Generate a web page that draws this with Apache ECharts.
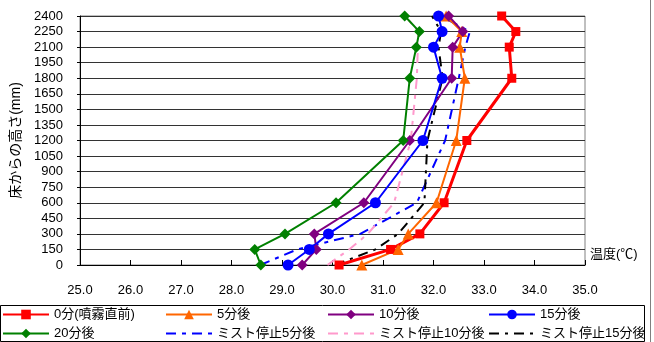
<!DOCTYPE html>
<html><head><meta charset="utf-8">
<script src="https://cdn.jsdelivr.net/npm/echarts@6/dist/echarts.min.js"></script>
<style>html,body{margin:0;padding:0;background:#fff}#c{width:654px;height:342px}</style>
</head><body><div id="c"></div>
<script>
var heights = [0, 150, 300, 600, 1200, 1800, 2100, 2250, 2400];
var names = ['0分(噴霧直前)', '5分後', '10分後', '15分後', '20分後', 'ミスト停止5分後', 'ミスト停止10分後', 'ミスト停止15分後'];
var t0 = [30.13, 31.15, 31.73, 32.21, 32.66, 33.55, 33.50, 33.63, 33.35];
var t5 = [30.58, 31.30, 31.50, 32.06, 32.45, 32.62, 32.52, 32.56, 32.25];
var t10 = [29.40, 29.68, 29.64, 30.62, 31.53, 32.36, 32.38, 32.58, 32.30];
var t15 = [29.12, 29.54, 29.92, 30.85, 31.79, 32.17, 32.00, 32.17, 32.10];
var t20 = [28.58, 28.46, 29.06, 30.07, 31.40, 31.53, 31.66, 31.72, 31.43];
var m5 = [28.57, 29.30, 30.55, 31.67, 32.23, 32.50, 32.63, 32.72, 32.15];
var m10 = [29.90, 30.33, 30.70, 31.22, 31.55, 31.67, 31.69, 31.70, 31.44];
var m15 = [30.05, 30.85, 31.30, 31.82, 31.88, 32.18, 32.10, 32.15, 31.97];
var xTicks = [25, 26, 27, 28, 29, 30, 31, 32, 33, 34, 35];

var FONT = "'Liberation Sans', 'Noto Sans CJK JP', sans-serif";
function pairs(arr) { return arr.map(function (v, i) { return [v, heights[i]]; }); }

var styles = [
  {c: '#FF0000', w: 3, sym: 'rect', sz: 9, z: 3},
  {c: '#FF6600', w: 2, sym: 'triangle', sz: 11, z: 3},
  {c: '#800080', w: 2, sym: 'diamond', sz: 11, z: 3},
  {c: '#0000FF', w: 2, sym: 'circle', sz: 11, z: 3},
  {c: '#008000', w: 2, sym: 'diamond', sz: 11, z: 3},
  {c: '#0000FF', w: 2, sym: 'none', sz: 0, z: 2, dash: [10, 6, 4, 6]},
  {c: '#FF99CC', w: 2, sym: 'none', sz: 0, z: 2, dash: [10, 6, 4, 6]},
  {c: '#000000', w: 2, sym: 'none', sz: 0, z: 2, dash: [10, 6, 3, 6]}
];
var dataSets = [t0, t5, t10, t15, t20, m5, m10, m15];

var series = dataSets.map(function (d, i) {
  var s = styles[i];
  var noSym = s.sym === 'none';
  return {
    name: names[i], type: 'line', data: pairs(d), z: s.z,
    symbol: s.sym, symbolSize: s.sz, showSymbol: !noSym,
    lineStyle: {color: s.c, width: s.w, type: s.dash || 'solid'},
    itemStyle: {color: s.c, opacity: noSym ? 0 : 1},
    animation: false
  };
});

var colX = [2, 165, 327, 488];
var rowY = [308, 327];
var legends = names.map(function (n, i) {
  var noSym = styles[i].sym === 'none';
  return {
    data: [n], left: colX[i % 4], top: rowY[Math.floor(i / 4)],
    padding: 0, itemWidth: 46, itemHeight: 12, itemGap: 0,
    itemStyle: noSym ? {opacity: 0} : {},
    textStyle: {fontSize: 13, color: '#000', fontFamily: FONT, padding: [0, 0, 0, 0]},
    selectedMode: false
  };
});

var chart = echarts.init(document.getElementById('c'));
chart.setOption({
  backgroundColor: '#fff',
  animation: false,
  grid: {left: 80, right: 69, top: 16, bottom: 77, show: true, borderColor: '#808080', borderWidth: 1},
  xAxis: {
    type: 'value', min: xTicks[0], max: xTicks[xTicks.length - 1], interval: 1,
    name: '温度(℃)', nameLocation: 'end', nameGap: 5,
    nameTextStyle: {fontSize: 13, color: '#000', fontFamily: FONT, verticalAlign: 'bottom', padding: [0, 0, 4, 0]},
    axisLine: {lineStyle: {color: '#000', width: 1}},
    axisTick: {inside: true, length: 5, lineStyle: {color: '#000'}},
    axisLabel: {margin: 19, fontSize: 13, color: '#000', fontFamily: FONT, formatter: function (v) { return v.toFixed(1); }},
    splitLine: {show: false}
  },
  yAxis: {
    type: 'value', min: 0, max: 2400, interval: 150,
    name: '床からの高さ(mm)', nameLocation: 'middle', nameGap: 55, nameRotate: 90,
    nameTextStyle: {fontSize: 14, color: '#000', fontFamily: FONT},
    axisLine: {show: true, lineStyle: {color: '#000', width: 1}},
    axisTick: {show: true, length: 3, lineStyle: {color: '#000'}},
    axisLabel: {margin: 17, fontSize: 13, color: '#000', fontFamily: FONT, formatter: function (v) { return String(v); }},
    splitLine: {show: true, lineStyle: {color: '#333', width: 1}}
  },
  legend: legends,
  graphic: [
    {type: 'rect', shape: {x: 0.5, y: 305.5, width: 644, height: 36}, style: {fill: 'none', stroke: '#000', lineWidth: 1}, z: -1},
    {type: 'line', shape: {x1: 650.5, y1: 0, x2: 650.5, y2: 342}, style: {stroke: '#808080', lineWidth: 1}}
  ],
  series: series
});
</script></body></html>
